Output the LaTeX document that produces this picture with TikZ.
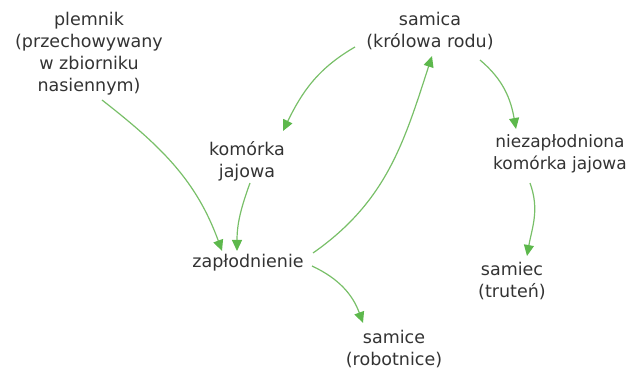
\documentclass[tikz,border=0pt]{standalone}
\usepackage{fontspec}
\setmainfont{DejaVu Sans}
\usetikzlibrary{arrows.meta}
\definecolor{txt}{HTML}{333333}
\definecolor{arr}{HTML}{5DB84C}
\definecolor{ln}{HTML}{78BF68}
\begin{document}
\begin{tikzpicture}[x=1pt,y=-1pt,
  lbl/.style={align=center,inner sep=0pt,text=txt,font=\fontsize{17.5pt}{22pt}\selectfont},
  flow/.style={draw=ln,line width=1.2pt,-{Triangle[length=11pt,width=10pt,color=arr]}}]
\useasboundingbox (0,0) rectangle (629,371);
\node[lbl] (plem) at (89,54) {plemnik\\(przechowywany\\w zbiorniku\\nasiennym)};
\node[lbl] (sam) at (430,31) {samica\\(królowa rodu)};
\node[lbl] (kom) at (247,161) {komórka\\jajowa};
\node[lbl,font=\fontsize{17pt}{22pt}\selectfont] (niez) at (560,154) {niezapłodniona\\komórka jajowa};
\node[lbl] (zap) at (248,263) {zapłodnienie};
\node[lbl] (samiec) at (512,281) {samiec\\(truteń)};
\node[lbl] (samice) at (394,349) {samice\\(robotnice)};
\draw[flow] ([shift={(13,46)}]plem.center) to[out=-38,in=110] ([shift={(-26,-12)}]zap.center);
\draw[flow] ([shift={(3,22)}]kom.center) to[out=-110,in=90] ([shift={(-11,-12)}]zap.center);
\draw[flow] ([shift={(65,-10)}]zap.center) to[out=35,in=-108] ([shift={(2,25)}]sam.center);
\draw[flow] ([shift={(-75,16)}]sam.center) to[out=210,in=64] ([shift={(36,-30)}]kom.center);
\draw[flow] ([shift={(50,29)}]sam.center) to[out=-40,in=100] ([shift={(-44,-25)}]niez.center);
\draw[flow] ([shift={(-30,29)}]niez.center) to[out=-70,in=80] ([shift={(15,-25)}]samiec.center);
\draw[flow] ([shift={(64,3)}]zap.center) to[out=-25,in=110] ([shift={(-31,-26)}]samice.center);
\end{tikzpicture}
\end{document}
